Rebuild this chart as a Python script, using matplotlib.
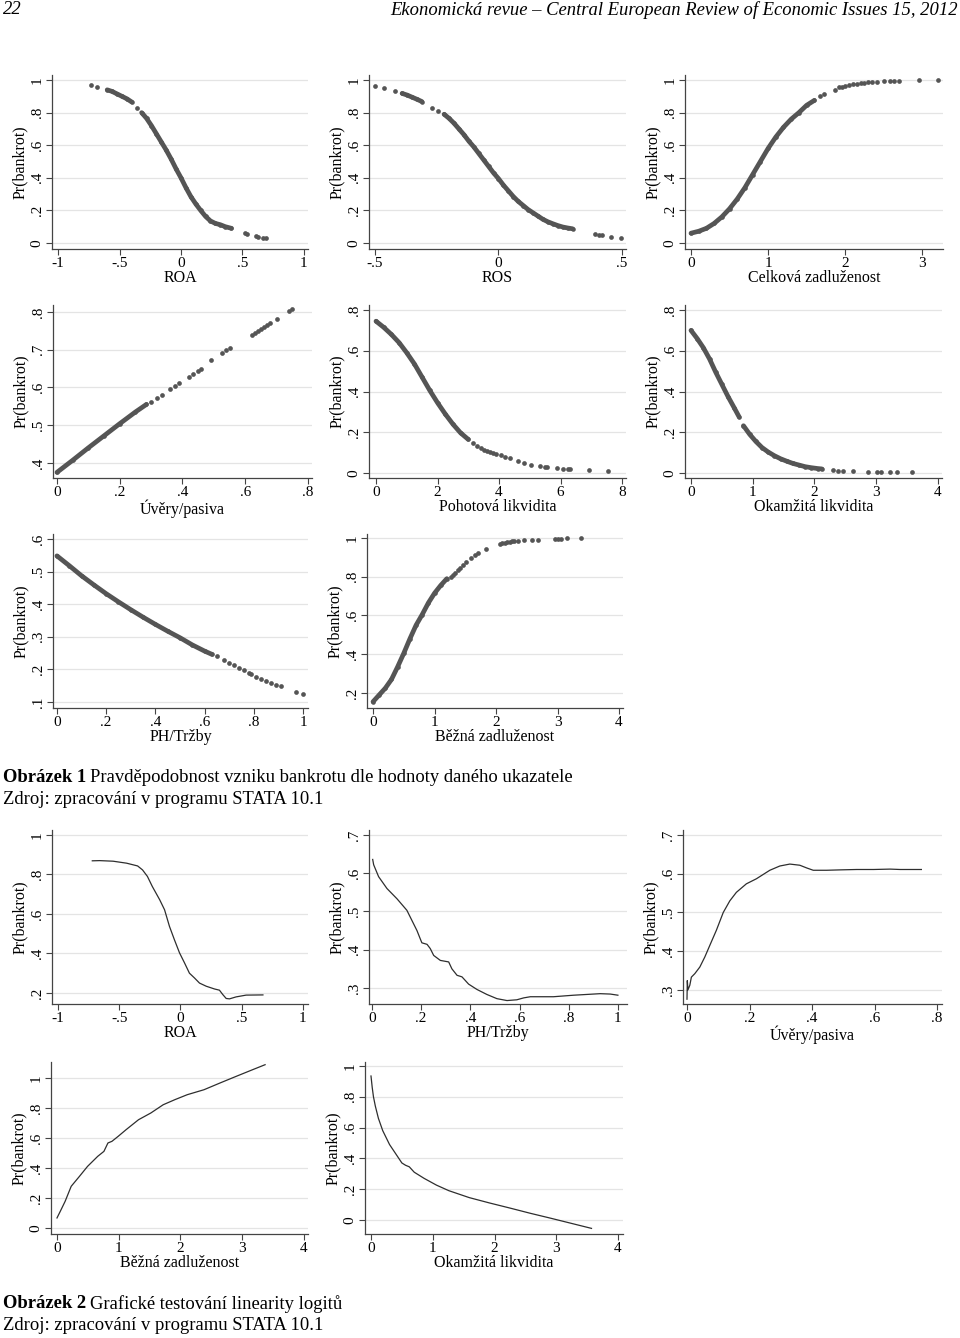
import matplotlib.pyplot as plt

plt.rcParams['font.family'] = ['Liberation Serif', 'DejaVu Serif']

W, H = 960, 1338
DOT = '#555555'
LINE = '#2e2e2e'
GRID = '#e4e4e4'
AXC = '#444444'

# ---------------- Obrázek 1: predicted Pr(bankrot) ----------------
# ROA
roa_d1_x = [-0.60, -0.56, -0.52, -0.48, -0.44, -0.40]
roa_d1_y = [0.94, 0.93, 0.915, 0.90, 0.885, 0.865]
roa_d2_x = [-0.32, -0.28, -0.24, -0.20, -0.16, -0.12, -0.08, -0.04, 0.0, 0.04, 0.08,
            0.12, 0.16, 0.20, 0.24, 0.28, 0.32, 0.36, 0.41]
roa_d2_y = [0.80, 0.765, 0.72, 0.67, 0.62, 0.57, 0.515, 0.455, 0.40, 0.34, 0.285,
            0.24, 0.20, 0.163, 0.135, 0.12, 0.112, 0.10, 0.09]
roa_sp_x = [-0.73, -0.68, -0.36, 0.52, 0.54, 0.61, 0.63, 0.67, 0.69]
roa_sp_y = [0.97, 0.955, 0.83, 0.06, 0.055, 0.042, 0.038, 0.03, 0.028]

# ROS
ros_d1_x = [-0.39, -0.37, -0.35, -0.33, -0.31]
ros_d1_y = [0.918, 0.908, 0.895, 0.882, 0.868]
ros_d2_x = [-0.22, -0.20, -0.18, -0.16, -0.14, -0.12, -0.10, -0.08, -0.06, -0.04, -0.02,
            0.0, 0.02, 0.04, 0.06, 0.08, 0.10, 0.12, 0.14, 0.16, 0.18, 0.20, 0.22,
            0.24, 0.26, 0.28, 0.30]
ros_d2_y = [0.79, 0.765, 0.735, 0.70, 0.665, 0.625, 0.59, 0.55, 0.51, 0.47, 0.43,
            0.395, 0.355, 0.32, 0.285, 0.255, 0.23, 0.205, 0.185, 0.165, 0.145, 0.13,
            0.118, 0.107, 0.098, 0.092, 0.087]
ros_sp_x = [-0.50, -0.465, -0.42, -0.27, -0.245, 0.39, 0.405, 0.42, 0.455, 0.495]
ros_sp_y = [0.963, 0.95, 0.93, 0.83, 0.81, 0.055, 0.05, 0.047, 0.037, 0.031]

# Celková zadluženost
cz_d_x = [0.0, 0.1, 0.2, 0.3, 0.4, 0.5, 0.6, 0.7, 0.8, 0.9, 1.0, 1.1, 1.2, 1.3, 1.4, 1.5, 1.6]
cz_d_y = [0.06, 0.072, 0.09, 0.12, 0.16, 0.21, 0.27, 0.34, 0.42, 0.50, 0.58, 0.65, 0.71,
          0.76, 0.80, 0.845, 0.875]
cz_sp_x = [1.68, 1.72, 1.87, 1.92, 1.96, 2.0, 2.05, 2.1, 2.15, 2.2, 2.25, 2.3, 2.35, 2.42,
           2.5, 2.58, 2.63, 2.7, 2.96, 3.2]
cz_sp_y = [0.905, 0.915, 0.94, 0.955, 0.96, 0.965, 0.97, 0.975, 0.978, 0.982, 0.984, 0.985,
           0.987, 0.99, 0.993, 0.995, 0.996, 0.997, 1.0, 1.0]

# Úvěry/pasiva
uv_d_x = [0.0, 0.05, 0.10, 0.15, 0.20, 0.25, 0.285]
uv_d_y = [0.375, 0.407, 0.44, 0.472, 0.504, 0.535, 0.555]
uv_sp_x = [0.30, 0.32, 0.335, 0.36, 0.375, 0.39, 0.42, 0.435, 0.45, 0.46, 0.49, 0.525,
           0.54, 0.55, 0.62, 0.63, 0.64, 0.65, 0.66, 0.67, 0.68, 0.70, 0.74, 0.75]
uv_sp_y = [0.562, 0.573, 0.581, 0.595, 0.603, 0.611, 0.627, 0.636, 0.644, 0.65, 0.672, 0.69,
           0.698, 0.704, 0.74, 0.745, 0.75, 0.756, 0.761, 0.766, 0.771, 0.782, 0.803, 0.808]

# Pohotová likvidita
po_d_x = [0.0, 0.25, 0.5, 0.75, 1.0, 1.25, 1.5, 1.75, 2.0, 2.25, 2.5, 2.75, 3.0]
po_d_y = [0.745, 0.715, 0.68, 0.64, 0.59, 0.535, 0.47, 0.405, 0.345, 0.29, 0.24, 0.197, 0.165]
po_sp_x = [3.15, 3.3, 3.4, 3.5, 3.6, 3.7, 3.8, 3.9, 4.05, 4.2, 4.36, 4.63, 4.82, 5.04,
           5.34, 5.5, 5.56, 5.88, 6.08, 6.25, 6.3, 6.92, 7.55]
po_sp_y = [0.148, 0.133, 0.124, 0.115, 0.108, 0.102, 0.097, 0.093, 0.087, 0.079, 0.073,
           0.057, 0.049, 0.041, 0.033, 0.029, 0.028, 0.024, 0.021, 0.02, 0.019, 0.013, 0.01]

# Okamžitá likvidita
ok_d1_x = [0.0, 0.1, 0.2, 0.3, 0.4, 0.5, 0.6, 0.7, 0.78]
ok_d1_y = [0.70, 0.66, 0.615, 0.56, 0.495, 0.435, 0.375, 0.32, 0.275]
ok_d2_x = [0.85, 0.95, 1.05, 1.15, 1.25, 1.35, 1.45, 1.55, 1.65, 1.75, 1.85, 1.95, 2.05, 2.12]
ok_d2_y = [0.232, 0.19, 0.155, 0.125, 0.103, 0.085, 0.07, 0.058, 0.047, 0.039, 0.031,
           0.026, 0.022, 0.02]
ok_sp_x = [2.3, 2.38, 2.46, 2.62, 2.86, 3.02, 3.07, 3.22, 3.33, 3.58]
ok_sp_y = [0.013, 0.012, 0.011, 0.008, 0.007, 0.007, 0.007, 0.005, 0.005, 0.005]

# PH/Tržby
ph_d_x = [0.0, 0.05, 0.10, 0.15, 0.20, 0.25, 0.30, 0.35, 0.40, 0.45, 0.50, 0.55, 0.60, 0.63]
ph_d_y = [0.548, 0.518, 0.487, 0.459, 0.432, 0.407, 0.383, 0.36, 0.338, 0.317, 0.297,
          0.275, 0.256, 0.246]
ph_sp_x = [0.65, 0.68, 0.70, 0.72, 0.74, 0.76, 0.78, 0.79, 0.81, 0.83, 0.85, 0.87, 0.89,
           0.91, 0.97, 1.0]
ph_sp_y = [0.24, 0.228, 0.22, 0.213, 0.205, 0.198, 0.19, 0.186, 0.178, 0.172, 0.165, 0.158,
           0.152, 0.148, 0.13, 0.123]

# Běžná zadluženost
bz_d_x = [0.0, 0.1, 0.2, 0.3, 0.4, 0.5, 0.6, 0.7, 0.8, 0.9, 1.0, 1.1, 1.2]
bz_d_y = [0.155, 0.19, 0.225, 0.27, 0.335, 0.405, 0.48, 0.55, 0.605, 0.665, 0.715, 0.755, 0.79]
bz_sp_x = [1.26, 1.3, 1.34, 1.38, 1.42, 1.46, 1.52, 1.6, 1.66, 1.71, 1.83, 2.06, 2.1, 2.14,
           2.18, 2.22, 2.26, 2.3, 2.35, 2.45, 2.58, 2.69, 2.96, 3.0, 3.06, 3.15, 3.39]
bz_sp_y = [0.80, 0.81, 0.82, 0.835, 0.845, 0.86, 0.875, 0.895, 0.91, 0.92, 0.945, 0.968,
           0.972, 0.976, 0.978, 0.98, 0.982, 0.984, 0.986, 0.988, 0.99, 0.992, 0.996, 0.996,
           0.997, 0.998, 1.0]

# ---------------- Obrázek 2: smoothed curves ----------------
l_roa_x = [-0.72, -0.66, -0.55, -0.44, -0.35, -0.31, -0.27, -0.23, -0.17, -0.13, -0.09,
           -0.05, -0.008, 0.033, 0.073, 0.114, 0.155, 0.21, 0.278, 0.318, 0.345, 0.373,
           0.40, 0.454, 0.536, 0.673]
l_roa_y = [0.869, 0.87, 0.867, 0.857, 0.843, 0.823, 0.79, 0.739, 0.672, 0.621, 0.537,
           0.47, 0.403, 0.352, 0.30, 0.276, 0.25, 0.234, 0.22, 0.214, 0.192, 0.172,
           0.17, 0.18, 0.189, 0.19]

l_ph_x = [0.003, 0.007, 0.027, 0.061, 0.102, 0.142, 0.183, 0.196, 0.203, 0.224, 0.237,
          0.251, 0.278, 0.312, 0.325, 0.346, 0.366, 0.393, 0.427, 0.467, 0.508, 0.549,
          0.589, 0.617, 0.644, 0.738, 0.82, 0.874, 0.928, 0.969, 1.0]
l_ph_y = [0.636, 0.622, 0.591, 0.56, 0.533, 0.503, 0.45, 0.429, 0.418, 0.414, 0.403,
          0.385, 0.372, 0.368, 0.35, 0.333, 0.329, 0.31, 0.296, 0.283, 0.272, 0.267,
          0.269, 0.274, 0.277, 0.277, 0.281, 0.283, 0.285, 0.284, 0.281]

l_uv_x = [0.0, 0.001, 0.003, 0.009, 0.014, 0.025, 0.041, 0.057, 0.073, 0.094, 0.116,
          0.137, 0.158, 0.19, 0.222, 0.265, 0.297, 0.329, 0.361, 0.383, 0.404, 0.447,
          0.49, 0.543, 0.597, 0.65, 0.682, 0.75]
l_uv_y = [0.276, 0.324, 0.30, 0.312, 0.333, 0.342, 0.359, 0.385, 0.415, 0.454, 0.5,
          0.53, 0.552, 0.574, 0.587, 0.609, 0.62, 0.625, 0.622, 0.615, 0.609, 0.609,
          0.61, 0.611, 0.611, 0.612, 0.611, 0.611]

l_bz_x = [0.0, 0.053, 0.132, 0.23, 0.363, 0.495, 0.66, 0.76, 0.825, 0.89, 0.99, 1.12,
          1.32, 1.52, 1.72, 1.91, 2.11, 2.38, 2.64, 2.9, 3.17, 3.37]
l_bz_y = [0.067, 0.111, 0.178, 0.278, 0.344, 0.411, 0.478, 0.511, 0.567, 0.578, 0.611,
          0.656, 0.722, 0.767, 0.822, 0.856, 0.889, 0.922, 0.967, 1.011, 1.056, 1.089]

l_ok_x = [0.0, 0.02, 0.04, 0.07, 0.12, 0.19, 0.3, 0.4, 0.5, 0.56, 0.62, 0.7, 0.86, 1.06,
          1.26, 1.59, 1.92, 2.25, 2.58, 2.91, 3.24, 3.57]
l_ok_y = [0.935, 0.86, 0.8, 0.74, 0.66, 0.58, 0.49, 0.43, 0.37, 0.355, 0.345, 0.31, 0.27,
          0.226, 0.19, 0.145, 0.11, 0.077, 0.043, 0.011, -0.022, -0.055]

# tick sets
T01 = [0, 0.2, 0.4, 0.6, 0.8, 1]
T01_LAB = ['0', '.2', '.4', '.6', '.8', '1']
T08 = [0, 0.2, 0.4, 0.6, 0.8]
T08_LAB = ['0', '.2', '.4', '.6', '.8']
T48 = [0.4, 0.5, 0.6, 0.7, 0.8]
T48_LAB = ['.4', '.5', '.6', '.7', '.8']
T16 = [0.1, 0.2, 0.3, 0.4, 0.5, 0.6]
T16_LAB = ['.1', '.2', '.3', '.4', '.5', '.6']
T21 = [0.2, 0.4, 0.6, 0.8, 1]
T21_LAB = ['.2', '.4', '.6', '.8', '1']
T37 = [0.3, 0.4, 0.5, 0.6, 0.7]
T37_LAB = ['.3', '.4', '.5', '.6', '.7']
TM11 = [-1, -0.5, 0, 0.5, 1]
TM11_LAB = ['-1', '-.5', '0', '.5', '1']
TM55 = [-0.5, 0, 0.5]
TM55_LAB = ['-.5', '0', '.5']
T03 = [0, 1, 2, 3]
T04 = [0, 1, 2, 3, 4]
T0_8 = [0, 2, 4, 6, 8]
T10 = [0, 0.2, 0.4, 0.6, 0.8, 1]
T10_LAB = ['0', '.2', '.4', '.6', '.8', '1']

fig = plt.figure(figsize=(W / 100, H / 100), dpi=100)


def make_ax(l, r, t, b, xlim, ylim, xt, xl, yt, yl, xlabel):
    ax = fig.add_axes([l / W, 1 - b / H, (r - l) / W, (b - t) / H])
    ax.set_xlim(*xlim)
    ax.set_ylim(*ylim)
    for s in ['top', 'right']:
        ax.spines[s].set_visible(False)
    for s in ['left', 'bottom']:
        ax.spines[s].set_color(AXC)
        ax.spines[s].set_linewidth(0.9)
    ax.set_xticks(xt)
    ax.set_xticklabels(xl)
    ax.set_yticks(yt)
    ax.set_yticklabels(yl, rotation=90, va='center')
    ax.tick_params(length=4, width=0.8, color=AXC, labelsize=11, pad=2)
    ax.yaxis.grid(True, color=GRID, linewidth=0.9)
    ax.set_axisbelow(True)
    ax.set_xlabel(xlabel, fontsize=11.5, labelpad=0)
    ax.set_ylabel('Pr(bankrot)', fontsize=11.5, labelpad=2)
    return ax


def dots(ax, dense, sparse):
    for x, y in dense:
        ax.plot(x, y, '-', color=DOT, lw=3.4, solid_capstyle='round', zorder=3)
        ax.plot(x, y, 'o', color=DOT, ms=3.3, mec='none', zorder=3)
    ax.plot(sparse[0], sparse[1], 'o', color=DOT, ms=3.4, mec='none', zorder=3)


# row 1
ax = make_ax(52, 308, 75, 249, (-1.049, 1.033), (-0.037, 1.031), TM11, TM11_LAB, T01, T01_LAB, 'ROA')
dots(ax, [(roa_d1_x, roa_d1_y), (roa_d2_x, roa_d2_y)], (roa_sp_x, roa_sp_y))
ax = make_ax(369, 626, 75, 249, (-0.524, 0.516), (-0.037, 1.031), TM55, TM55_LAB, T01, T01_LAB, 'ROS')
dots(ax, [(ros_d1_x, ros_d1_y), (ros_d2_x, ros_d2_y)], (ros_sp_x, ros_sp_y))
ax = make_ax(685, 943, 75, 249, (-0.078, 3.27), (-0.037, 1.031), T03, [str(v) for v in T03], T01, T01_LAB,
             'Celková zadluženost')
dots(ax, [(cz_d_x, cz_d_y)], (cz_sp_x, cz_sp_y))

# row 2
ax = make_ax(53, 312, 305, 478, (-0.0127, 0.8127), (0.36, 0.8185), T08, T08_LAB, T48, T48_LAB, 'Úvěry/pasiva')
dots(ax, [(uv_d_x, uv_d_y)], (uv_sp_x, uv_sp_y))
ax = make_ax(369, 626, 305, 478, (-0.228, 8.13), (-0.0245, 0.8245), T0_8, [str(v) for v in T0_8], T08, T08_LAB,
             'Pohotová likvidita')
dots(ax, [(po_d_x, po_d_y)], (po_sp_x, po_sp_y))
ax = make_ax(685, 942, 305, 478, (-0.097, 4.065), (-0.0245, 0.8245), T04, [str(v) for v in T04], T08, T08_LAB,
             'Okamžitá likvidita')
dots(ax, [(ok_d1_x, ok_d1_y), (ok_d2_x, ok_d2_y)], (ok_sp_x, ok_sp_y))

# row 3
ax = make_ax(53, 308, 534, 708, (-0.016, 1.02), (0.0816, 0.615), T10, T10_LAB, T16, T16_LAB, 'PH/Tržby')
dots(ax, [(ph_d_x, ph_d_y)], (ph_sp_x, ph_sp_y))
ax = make_ax(367, 623, 534, 708, (-0.098, 4.065), (0.1226, 1.0206), T04, [str(v) for v in T04], T21, T21_LAB,
             'Běžná zadluženost')
dots(ax, [(bz_d_x, bz_d_y)], (bz_sp_x, bz_sp_y))

# row 4
ax = make_ax(52, 308, 830, 1004, (-1.049, 1.041), (0.144, 1.025), TM11, TM11_LAB, T21, T21_LAB, 'ROA')
ax.plot(l_roa_x, l_roa_y, color=LINE, lw=0.9)
ax = make_ax(369, 627, 830, 1004, (-0.012, 1.037), (0.258, 0.713), T10, T10_LAB, T37, T37_LAB, 'PH/Tržby')
ax.plot(l_ph_x, l_ph_y, color=LINE, lw=0.9)
ax = make_ax(683, 942, 830, 1004, (-0.0128, 0.816), (0.2636, 0.713), T08, T08_LAB, T37, T37_LAB, 'Úvěry/pasiva')
ax.plot(l_uv_x, l_uv_y, color=LINE, lw=0.9)

# row 5
ax = make_ax(51, 308, 1062, 1234, (-0.097, 4.065), (-0.04, 1.107), T04, [str(v) for v in T04], T01, T01_LAB,
             'Běžná zadluženost')
ax.plot(l_bz_x, l_bz_y, color=LINE, lw=0.9)
ax = make_ax(365, 623, 1062, 1234, (-0.097, 4.08), (-0.0915, 1.026), T04, [str(v) for v in T04], T01, T01_LAB,
             'Okamžitá likvidita')
ax.plot(l_ok_x, l_ok_y, color=LINE, lw=0.9)

# header and captions
FS = 13.4
fig.text(3 / W, 1 - 10 / H, '22', style='italic', fontsize=FS, va='center')
fig.text(958 / W, 1 - 10 / H, 'Ekonomická revue – Central European Review of Economic Issues 15, 2012',
         style='italic', fontsize=FS, va='center', ha='right')

renderer = fig.canvas.get_renderer()


def caption(y, bold, rest, src):
    t = fig.text(3 / W, 1 - y / H, bold, fontweight='bold', fontsize=FS, va='center')
    bb = t.get_window_extent(renderer)
    fig.text(bb.x1 / W + 4 / W, 1 - y / H, rest, fontsize=FS, va='center')
    fig.text(3 / W, 1 - (y + 22) / H, src, fontsize=FS, va='center')


caption(777, 'Obrázek 1', 'Pravděpodobnost vzniku bankrotu dle hodnoty daného ukazatele',
        'Zdroj: zpracování v programu STATA 10.1')
caption(1304, 'Obrázek 2', 'Grafické testování linearity logitů',
        'Zdroj: zpracování v programu STATA 10.1')

fig.savefig('out.png', dpi=100)
